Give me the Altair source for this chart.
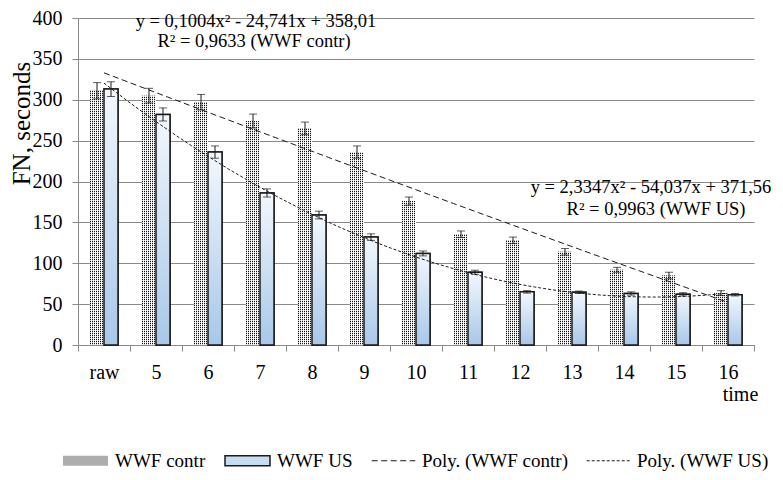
import altair as alt
import pandas as pd

categories = ["raw", "5", "6", "7", "8", "9", "10", "11", "12", "13", "14", "15", "16"]
contr_vals = [311, 305, 297, 274, 265, 236, 176, 135.5, 128, 114, 92, 85, 63.5]
contr_err = [10, 9, 9.5, 8.5, 7.7, 7.5, 5, 4, 4, 4, 3, 4, 3]
us_vals = [313, 282, 236, 186, 159, 132, 112, 89, 65, 64.5, 63, 62, 61.5]
us_err = [9, 8, 7.5, 5, 4.7, 4, 3, 2.5, 1.5, 1.5, 2, 2, 1.5]
series_names = ["WWF contr", "WWF US"]
trend_names = ["Poly. (WWF contr)", "Poly. (WWF US)"]
eq_contr = ["y = 0,1004x² - 24,741x + 358,01", "R² = 0,9633 (WWF contr)"]
eq_us = ["y = 2,3347x² - 54,037x + 371,56", "R² = 0,9963 (WWF US)"]
y_ticks = [0, 50, 100, 150, 200, 250, 300, 350, 400]

rows = []
for i, c in enumerate(categories):
    rows.append(dict(cat=c, idx=i + 1, series=series_names[0], val=contr_vals[i], err=contr_err[i]))
    rows.append(dict(cat=c, idx=i + 1, series=series_names[1], val=us_vals[i], err=us_err[i]))
df = pd.DataFrame(rows)
dummy = pd.DataFrame({"d": [0]})

W, H = 676, 327
FONT = "Liberation Serif"
GRID = "#8a8a8a"
INK = "#1a1a1a"

xscale = alt.Scale(domain=categories, paddingInner=0, paddingOuter=0)
yscale = alt.Scale(domain=[0, 400], nice=False, zero=True)

x_axis = alt.Axis(
    title="time", tickBand="extent", tickSize=6, tickColor=GRID, domainColor=GRID,
    labelPadding=11, labelFontSize=20, labelFont=FONT, labelColor="black", labelAngle=0,
    titleFont=FONT, titleFontSize=20, titleFontWeight="normal", titleColor="black",
    titleX=662, titleY=49, titleAlign="center", titleBaseline="middle", grid=False,
)
y_axis = alt.Axis(
    title="FN, seconds", values=y_ticks, tickSize=6, tickColor=GRID, domainColor=GRID,
    grid=True, gridColor=GRID, labelPadding=10, labelFontSize=20, labelFont=FONT,
    labelColor="black", titleFont=FONT, titleFontSize=25, titleFontWeight="normal",
    titleColor="black", titleX=-57, titleY=105, titleAngle=270, titleAlign="center",
    titleBaseline="middle",
)


def X(axis=None):
    return alt.X("cat:N", sort=categories, scale=xscale, axis=axis)


def Y(field):
    return alt.Y(field, scale=yscale, axis=y_axis)


fill_legend = alt.Legend(
    title=None, orient="none", legendX=-16, legendY=419, direction="horizontal",
    symbolType="M-1,-0.22H1V0.22H-1Z", symbolSize=2025, symbolStrokeWidth=1.5,
    labelFont=FONT, labelFontSize=19, labelColor="black", labelOffset=6, columnPadding=16,
)
dash_legend = alt.Legend(
    title=None, orient="none", legendX=293, legendY=420, direction="horizontal",
    symbolType="stroke", symbolSize=1900, symbolStrokeWidth=1, symbolStrokeColor=INK,
    labelFont=FONT, labelFontSize=19, labelColor="black", labelOffset=6, columnPadding=16,
)
fill_scale = alt.Scale(domain=series_names, range=["#adadad", "#c8dcf1"])
stroke_scale = alt.Scale(domain=series_names, range=["transparent", INK])

is_contr = alt.datum.series == series_names[0]
is_us = alt.datum.series == series_names[1]

base = alt.Chart(df)

legend_contr = base.transform_filter(is_contr).mark_bar(width=14, xOffset=-7, strokeWidth=1.5).encode(
    x=X(x_axis), y=Y("val:Q"),
    fill=alt.Fill("series:N", scale=fill_scale, legend=fill_legend),
    stroke=alt.Stroke("series:N", scale=stroke_scale, legend=fill_legend),
)
legend_us = base.transform_filter(is_us).mark_bar(width=14, xOffset=7, strokeWidth=1.5).encode(
    x=X(), y=Y("val:Q"),
    fill=alt.Fill("series:N", scale=fill_scale, legend=fill_legend),
    stroke=alt.Stroke("series:N", scale=stroke_scale, legend=fill_legend),
)

stops = []
for p in range(7):
    a = p / 7.0
    b = (p + 0.5) / 7.0
    c = (p + 1) / 7.0
    stops += [
        {"offset": a, "color": "#111111"}, {"offset": b, "color": "#111111"},
        {"offset": b, "color": "#ffffff"}, {"offset": c, "color": "#ffffff"},
    ]
stripe_grad = {"gradient": "linear", "x1": 0, "y1": 0, "x2": 1, "y2": 0, "stops": stops}
blue_grad = {
    "gradient": "linear", "x1": 0, "y1": 0, "x2": 0, "y2": 1,
    "stops": [{"offset": 0, "color": "#f3f8fd"}, {"offset": 1, "color": "#a8c7e9"}],
}

contr_stripes = base.transform_filter(is_contr).mark_bar(width=14, xOffset=-7, fill=stripe_grad).encode(
    x=X(), y=Y("val:Q"),
)
contr_rows = base.transform_filter(is_contr).transform_calculate(zero="0").mark_rule(
    xOffset=-7, strokeWidth=14, strokeDash=[1, 1], stroke="white", strokeOpacity=0.8
).encode(x=X(), y=Y("zero:Q"), y2="val:Q")
us_bars = base.transform_filter(is_us).mark_bar(
    width=14, xOffset=7, fill=blue_grad, stroke=INK, strokeWidth=1.5
).encode(x=X(), y=Y("val:Q"))

err_base = base.transform_calculate(lo="datum.val - datum.err", hi="datum.val + datum.err")
err_layers = []
for cond, off in [(is_contr, -7), (is_us, 7)]:
    eb = err_base.transform_filter(cond)
    err_layers.append(eb.mark_rule(xOffset=off, color=INK, strokeWidth=1).encode(x=X(), y=Y("lo:Q"), y2="hi:Q"))
    err_layers.append(eb.mark_tick(xOffset=off, color=INK, size=8, thickness=1).encode(x=X(), y=Y("lo:Q")))
    err_layers.append(eb.mark_tick(xOffset=off, color=INK, size=8, thickness=1).encode(x=X(), y=Y("hi:Q")))

trend = base.transform_regression(
    "idx", "val", method="poly", order=2, groupby=["series"], extent=[1, 13]
).transform_calculate(trend="'Poly. (' + datum.series + ')'").mark_line(color=INK, strokeWidth=1).encode(
    x=alt.X("idx:Q", scale=alt.Scale(domain=[0.5, 13.5], nice=False, zero=False), axis=None),
    y=Y("val:Q"),
    strokeDash=alt.StrokeDash("trend:N", scale=alt.Scale(domain=trend_names, range=[[6, 3.5], [3, 2]]),
                              legend=dash_legend),
)


def label(txt, x, y):
    return alt.Chart(dummy).mark_text(
        font=FONT, fontSize=18.5, align="center", baseline="alphabetic", color="black"
    ).encode(x=alt.value(x), y=alt.value(y), text=alt.value(txt))


texts = [
    label(eq_contr[0], 178, 9),
    label(eq_contr[1], 176, 29),
    label(eq_us[0], 573, 175),
    label(eq_us[1], 578, 197),
]

chart = alt.layer(
    legend_contr, legend_us, contr_stripes, contr_rows, us_bars, *err_layers, trend, *texts
).resolve_scale(x="independent").properties(
    width=W, height=H,
    padding={"left": 70, "top": 10, "right": 21, "bottom": 127},
    autosize=alt.AutoSizeParams(type="none"),
    background="white",
).configure_view(strokeWidth=0)

chart.save("out.html", embed_options={"renderer": "svg", "actions": False})
